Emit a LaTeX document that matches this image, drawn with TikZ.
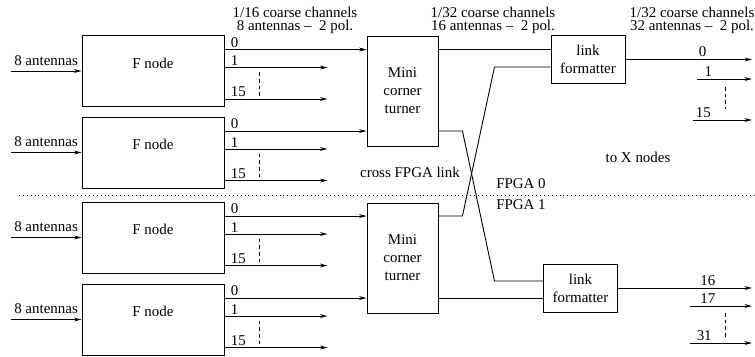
\documentclass[tikz,border=0pt]{standalone}
\usepackage{fontspec}
\setmainfont{Liberation Serif}
\usetikzlibrary{calc,arrows.meta}

\begin{document}
\begin{tikzpicture}[
  x=0.0235cm, y=-0.0235cm,
  font=\fontsize{10}{12}\selectfont,
  >={Stealth[length=5pt,width=2.6pt]},
  line width=0.6pt,
  fnode/.style={draw, minimum width=3.337cm, minimum height=1.669cm, text depth=0.376cm},
  turner/.style={draw, minimum width=1.669cm, minimum height=2.585cm, align=center},
  fmt/.style={draw, minimum width=1.739cm, minimum height=1.128cm, align=center},
  chlbl/.style={above right, inner sep=1pt, xshift=3pt},
  outlbl/.style={above, inner sep=1.5pt},
  gap/.style={dash pattern=on 2.5pt off 2pt},
  hdr/.style={align=center, inner sep=0pt},
]
\useasboundingbox (0,0) rectangle (755,356);

% corner turners and link formatters
\node[turner] (mct1) at (402.5,91) {Mini\\corner\\turner};
\node[turner] (mct2) at (402.5,258) {Mini\\corner\\turner};
\node[fmt] (lf1) at (588,59.5) {link\\formatter};
\node[fmt] (lf2) at (580.5,288) {link\\formatter};

% F nodes with their channel outputs
\foreach \n/\yc/\m in {1/71/1, 2/152.5/1, 3/237.5/2, 4/319.5/2} {
  \node[fnode] (fn\n) at (153,\yc) {F node};
  \draw[->] ($(fn\n.west)+(-71,0)$) -- (fn\n.west) node[midway, above] {8 antennas};
  \draw[->] ($(fn\n.north east)+(0,14.5)$) coordinate (c\n) -- (c\n -| mct\m.west) node[chlbl, pos=0] {0};
  \draw[->] ($(fn\n.north east)+(0,32.5)$) -- ++(103,0) node[chlbl, pos=0] {1};
  \draw[->] ($(fn\n.north east)+(0,64)$) -- ++(103,0) node[chlbl, pos=0] {15};
  \draw[gap] ($(fn\n.north east)+(35,37)$) -- ++(0,24);
}

% turners to formatters, crossing the FPGA boundary
\draw (c1 -| mct1.east) -- (c1 -| lf1.west);
\draw (c2 -| mct1.east) -- ++(24,0) -- ++(32,150) coordinate (k1) -- (k1 -| lf2.west);
\draw (c3 -| mct2.east) -- ++(24,0) -- ++(32,-149) coordinate (k2) -- (k2 -| lf1.west);
\draw (c4 -| mct2.east) -- (c4 -| lf2.west);

% outputs to X nodes
\coordinate (xe) at (752,0);
\draw[->] (lf1.east) -- (lf1.east -| xe) node[outlbl, pos=0.61] {0};
\draw[->] ($(lf1.east)+(72,19.5)$) coordinate (r1) -- (r1 -| xe) node[outlbl, pos=0.2] {1};
\draw[->] ($(lf1.east)+(68,60.5)$) coordinate (r2) -- (r2 -| xe) node[outlbl, pos=0.17] {15};
\draw[gap] ($(lf1.east)+(100,27.5)$) -- ++(0,22);
\draw[->] (lf2.east) -- (lf2.east -| xe) node[outlbl, pos=0.67] {16};
\draw[->] ($(lf2.east)+(72,18)$) coordinate (r3) -- (r3 -| xe) node[outlbl, pos=0.29] {17};
\draw[->] ($(lf2.east)+(72,55)$) coordinate (r4) -- (r4 -| xe) node[outlbl, pos=0.23] {31};
\draw[gap] ($(lf2.east)+(107,25)$) -- ++(0,24);

% FPGA boundary
\draw[dotted] (19,195) -- (755,195);

% headings and notes
\node[hdr] (h1) at (295,20.5) {1/16 coarse channels\\[-3.3pt]8 antennas --\ \ 2 pol.};
\node[hdr] (h2) at (493,20.5) {1/32 coarse channels\\[-3.3pt]16 antennas --\ \ 2 pol.};
\node[hdr] (h3) at (692,20.5) {1/32 coarse channels\\[-3.3pt]32 antennas --\ \ 2 pol.};
\node (xnodes) at (638,157) {to X nodes};
\node (cross) at (410,172) {cross FPGA link};
\node (fpga0) at (521,184) {FPGA 0};
\node (fpga1) at (521,205) {FPGA 1};

\end{tikzpicture}
\end{document}
